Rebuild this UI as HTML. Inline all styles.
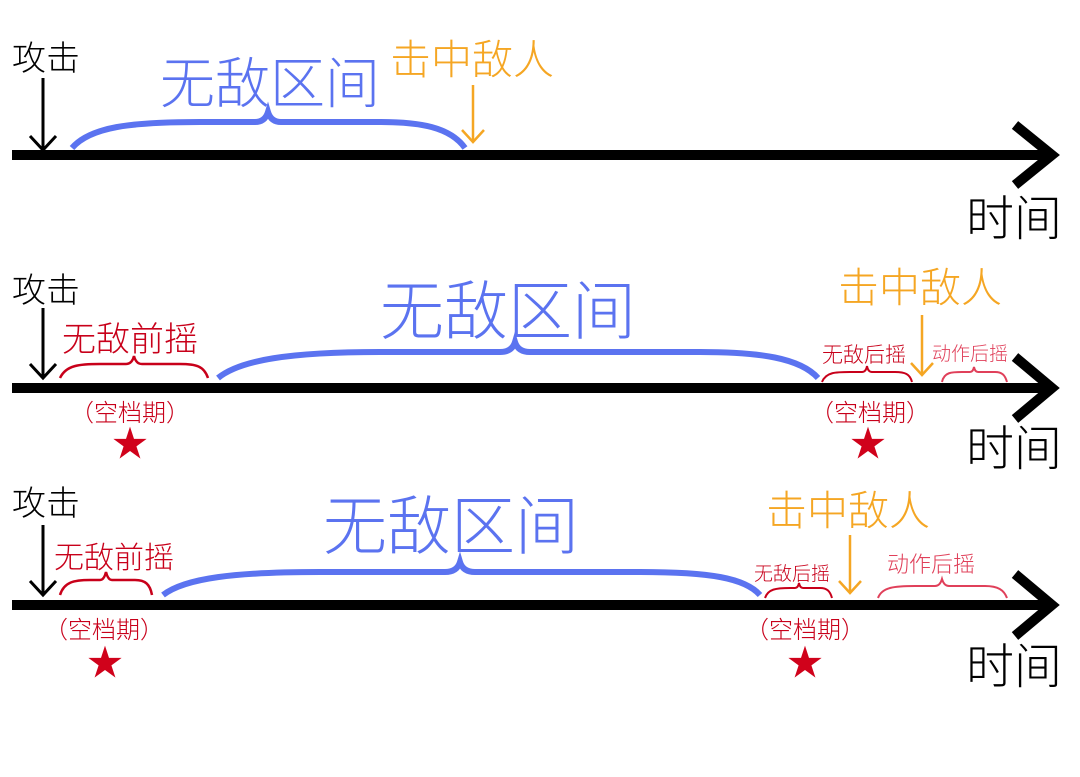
<!DOCTYPE html>
<html><head><meta charset="utf-8"><style>
html,body{margin:0;padding:0;background:#fff;}
svg{display:block;}
text{font-family:"Liberation Sans","Noto Sans CJK SC",sans-serif;font-weight:300;}
</style></head><body>
<svg width="1080" height="777" viewBox="0 0 1080 777" xmlns="http://www.w3.org/2000/svg">
<!-- ROW 1 -->
<line x1="12" y1="155" x2="1052" y2="155" stroke="#000" stroke-width="10"/>
<polyline points="1015,125 1052,155 1015,185" fill="none" stroke="#000" stroke-width="10"/>
<text x="12" y="70" font-size="34" fill="#000">攻击</text>
<line x1="43" y1="78" x2="43" y2="150" stroke="#000" stroke-width="3"/>
<polyline points="30,136 43,150 56,136" fill="none" stroke="#000" stroke-width="3"/>
<path d="M72,148 C90,127 130,122 200,122 L255,122 Q265,122 268,112 Q271,122 281,122 L380,122 C420,122 450,127 465,148" fill="none" stroke="#5b73f0" stroke-width="6"/>
<text x="160" y="103" font-size="55" fill="#5b73f0">无敌区间</text>
<text x="390" y="74" font-size="41" fill="#f5a623">击中敌人</text>
<line x1="473" y1="85" x2="473" y2="142" stroke="#f5a623" stroke-width="2.5"/>
<polyline points="462,130 473,142 484,130" fill="none" stroke="#f5a623" stroke-width="2.5"/>
<text x="966" y="235" font-size="48" font-weight="400" fill="#000">时间</text>

<!-- ROW 2 -->
<line x1="12" y1="388" x2="1052" y2="388" stroke="#000" stroke-width="10"/>
<polyline points="1015,357 1052,388 1015,419" fill="none" stroke="#000" stroke-width="10"/>
<text x="12" y="302" font-size="34" fill="#000">攻击</text>
<line x1="43" y1="308" x2="43" y2="378" stroke="#000" stroke-width="3"/>
<polyline points="30,364 43,378 56,364" fill="none" stroke="#000" stroke-width="3"/>
<text x="62" y="351" font-size="34" fill="#c8001a">无敌前摇</text>
<path d="M60,378 C66,365 80,364 100,364 L126,364 Q132,364 134,356 Q136,364 142,364 L180,364 C196,364 204,366 208,378" fill="none" stroke="#c8001a" stroke-width="2.5"/>
<path d="M218,378 C240,360 290,352 380,352 L500,352 Q512,352 515,342 Q518,352 530,352 L700,352 C760,352 800,358 818,378" fill="none" stroke="#5b73f0" stroke-width="6"/>
<text x="380" y="334" font-size="64" fill="#5b73f0">无敌区间</text>
<text x="838" y="302" font-size="41" fill="#f5a623">击中敌人</text>
<line x1="922" y1="315" x2="922" y2="375" stroke="#f5a623" stroke-width="2.5"/>
<polyline points="911,363 922,375 933,363" fill="none" stroke="#f5a623" stroke-width="2.5"/>
<text x="822" y="362" font-size="21" fill="#c8001a">无敌后摇</text>
<path d="M822,382 C826,372 836,372 850,372 L862,372 Q866,372 867,366 Q868,372 872,372 L895,372 C905,372 910,374 912,382" fill="none" stroke="#c8001a" stroke-width="2"/>
<text x="932" y="360" font-size="19" fill="#e0405a">动作后摇</text>
<path d="M942,382 C944,372 952,372 962,372 L970,372 Q973,372 974,367 Q975,372 978,372 L995,372 C1002,372 1005,375 1007,382" fill="none" stroke="#e0405a" stroke-width="2"/>
<text x="70" y="421" font-size="24" fill="#c8001a">（空档期）</text>
<text x="130" y="456" font-size="36" text-anchor="middle" fill="#d0021b" font-family="DejaVu Sans">★</text>
<text x="810" y="421" font-size="24" fill="#c8001a">（空档期）</text>
<text x="868" y="456" font-size="36" text-anchor="middle" fill="#d0021b" font-family="DejaVu Sans">★</text>
<text x="966" y="465" font-size="48" font-weight="400" fill="#000">时间</text>

<!-- ROW 3 -->
<line x1="12" y1="605" x2="1052" y2="605" stroke="#000" stroke-width="10"/>
<polyline points="1015,574 1052,605 1015,636" fill="none" stroke="#000" stroke-width="10"/>
<text x="12" y="515" font-size="34" fill="#000">攻击</text>
<line x1="43" y1="525" x2="43" y2="595" stroke="#000" stroke-width="3"/>
<polyline points="30,581 43,595 56,581" fill="none" stroke="#000" stroke-width="3"/>
<text x="54" y="568" font-size="30" fill="#c8001a">无敌前摇</text>
<path d="M60,595 C64,582 74,580 90,580 L100,580 Q104,580 106,572 Q108,580 112,580 L135,580 C145,580 150,584 152,595" fill="none" stroke="#c8001a" stroke-width="2.5"/>
<path d="M163,595 C185,578 235,572 320,572 L445,572 Q457,572 460,562 Q463,572 475,572 L640,572 C710,572 745,578 760,595" fill="none" stroke="#5b73f0" stroke-width="6"/>
<text x="323" y="549" font-size="64" fill="#5b73f0">无敌区间</text>
<text x="766" y="525" font-size="41" fill="#f5a623">击中敌人</text>
<line x1="850" y1="535" x2="850" y2="593" stroke="#f5a623" stroke-width="2.5"/>
<polyline points="839,581 850,593 861,581" fill="none" stroke="#f5a623" stroke-width="2.5"/>
<text x="754" y="580" font-size="19" fill="#c8001a">无敌后摇</text>
<path d="M765,598 C768,589 776,588 790,588 L795,588 Q798,588 799,583 Q800,588 803,588 L820,588 C827,588 830,591 832,598" fill="none" stroke="#c8001a" stroke-width="2"/>
<text x="887" y="572" font-size="22" fill="#e0405a">动作后摇</text>
<path d="M878,598 C882,587 895,586 915,586 L935,586 Q940,586 942,579 Q944,586 949,586 L985,586 C998,586 1004,590 1007,598" fill="none" stroke="#e0405a" stroke-width="2"/>
<text x="44" y="638" font-size="24" fill="#c8001a">（空档期）</text>
<text x="105" y="675" font-size="36" text-anchor="middle" fill="#d0021b" font-family="DejaVu Sans">★</text>
<text x="745" y="638" font-size="24" fill="#c8001a">（空档期）</text>
<text x="805" y="675" font-size="36" text-anchor="middle" fill="#d0021b" font-family="DejaVu Sans">★</text>
<text x="966" y="683" font-size="48" font-weight="400" fill="#000">时间</text>
</svg>
</body></html>
